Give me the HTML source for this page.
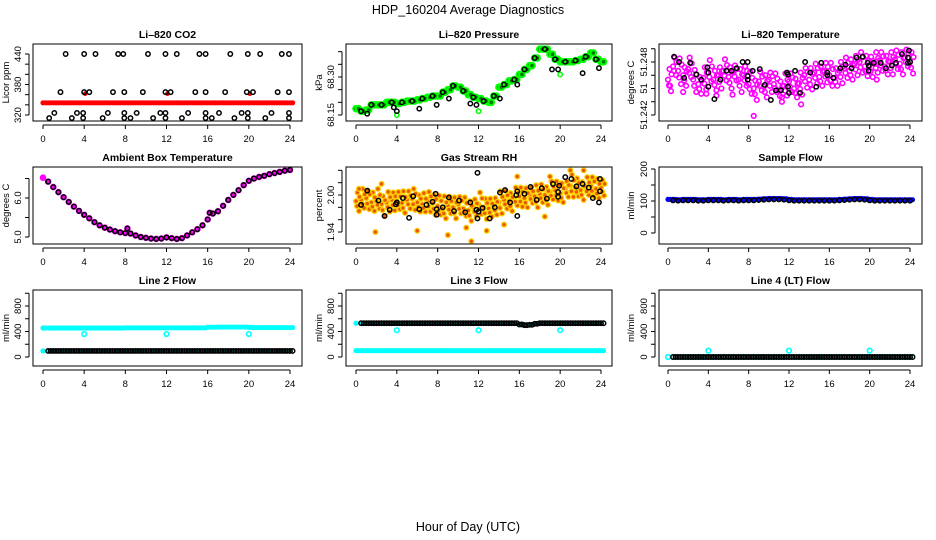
<!DOCTYPE html>
<html><head><meta charset="utf-8">
<style>
html,body{margin:0;padding:0;background:#fff;}
svg{display:block;font-family:"Liberation Sans",sans-serif;}
</style></head>
<body>
<svg id="chart" width="936" height="540" viewBox="0 0 936 540">
<rect width="936" height="540" fill="#fff"/>
<text x="468" y="14" font-size="12.5" text-anchor="middle">HDP_160204  Average Diagnostics</text>
<text x="468" y="531" font-size="12.5" text-anchor="middle">Hour of Day (UTC)</text>
</svg>
<script>
// ---------- shared data ----------
const hours = [0,0.5,1,1.5,2,2.5,3,3.5,4,4.5,5,5.5,6,6.5,7,7.5,8,8.5,9,9.5,10,10.5,11,11.5,12,12.5,13,13.5,14,14.5,15,15.5,16,16.5,17,17.5,18,18.5,19,19.5,20,20.5,21,21.5,22,22.5,23,23.5,24];
const xTicks = [0,4,8,12,16,20,24];
const xTickLabels = ["0","4","8","12","16","20","24"];

// CO2
const co2Red = [344,344,344,344,344,344,344,344,344,344,344,344,344,344,344,344,344,344,344,344,344,344,344,344,344,344,344,344,344,344,344,344,344,344,344,344,344,344,344,344,344,344,344,344,344,344,344,344,344];
const co2RedOutX = [4.1,12.1,20.1];
const co2RedOutY = [362,362,362];
const co2BlackX = [2.2,4,5.1,7.3,7.8,10.2,11.9,13,15.2,15.8,18.2,19.9,21.1,23.2,23.9,
 1.7,4,4.5,6.8,7.9,9.7,11.9,12.4,14.8,15.8,17.7,19.8,20.4,22.8,23.9,
 1.1,3.3,3.9,6.3,7.9,9.1,11.4,11.9,14.1,15.8,17.1,19.3,19.9,22.2,23.9,
 0.6,2.8,3.9,5.8,7.9,8.5,10.7,11.9,13.5,15.8,16.4,18.6,19.9,21.6,23.9];
const co2BlackY = [440,440,440,440,440,440,440,440,440,440,440,440,440,440,440,
 365,365,365,365,365,365,365,365,365,365,365,365,365,365,365,
 324,324,324,324,324,324,324,324,324,324,324,324,324,324,324,
 314,314,314,314,314,314,314,314,314,314,314,314,314,314,314];

// Pressure
const presGreen = [68.175,68.165,68.17,68.19,68.19,68.19,68.2,68.2,68.195,68.2,68.205,68.205,68.21,68.215,68.22,68.225,68.225,68.24,68.25,68.265,68.26,68.245,68.23,68.22,68.215,68.205,68.2,68.225,68.26,68.27,68.285,68.29,68.31,68.33,68.345,68.375,68.41,68.41,68.39,68.37,68.36,68.36,68.36,68.365,68.37,68.38,68.395,68.37,68.36];
const presGreenOutX = [4,12,20];
const presGreenOutY = [68.15,68.165,68.31];
const presBlackOutX = [1.1,3.7,4,6.2,7.9,9.1,11.2,11.8,14.1,15.8,19.2,19.8,22.2,23.8];
const presBlackOutY = [68.155,68.18,68.165,68.175,68.19,68.215,68.195,68.19,68.215,68.27,68.33,68.33,68.315,68.335];

// Li-820 Temperature
const tempMid = [51.2460,51.2475,51.2470,51.2465,51.2472,51.2460,51.2455,51.2462,51.2468,51.2460,51.2465,51.2470,51.2463,51.2468,51.2460,51.2465,51.2455,51.2450,51.2458,51.2452,51.2460,51.2455,51.2448,51.2453,51.2458,51.2450,51.2456,51.2465,51.2460,51.2468,51.2463,51.2470,51.2465,51.2462,51.2470,51.2473,51.2470,51.2478,51.2480,51.2475,51.2476,51.2478,51.2482,51.2475,51.2480,51.2483,51.2478,51.2485,51.2480];
const tempSpreadHi = [0.0012,0.0010,0.0014,0.0009,0.0013,0.0011,0.0008,0.0012,0.0014,0.0010,0.0009,0.0013,0.0011,0.0008,0.0012,0.0010,0.0014,0.0009,0.0011,0.0013,0.0008,0.0012,0.0010,0.0014,0.0009,0.0011,0.0012,0.0008,0.0013,0.0010,0.0012,0.0009,0.0014,0.0011,0.0010,0.0012,0.0013,0.0009,0.0011,0.0012,0.0010,0.0013,0.0009,0.0012,0.0011,0.0010,0.0013,0.0009,0.0011];
const tempSpreadLo = [0.0013,0.0010,0.0015,0.0012,0.0009,0.0014,0.0011,0.0013,0.0010,0.0012,0.0015,0.0011,0.0013,0.0009,0.0014,0.0012,0.0011,0.0013,0.0010,0.0012,0.0014,0.0009,0.0013,0.0011,0.0012,0.0010,0.0013,0.0014,0.0011,0.0012,0.0010,0.0013,0.0012,0.0009,0.0014,0.0011,0.0010,0.0013,0.0012,0.0011,0.0013,0.0010,0.0012,0.0009,0.0014,0.0011,0.0012,0.0010,0.0013];
const tempMagOutX = [8.5,1.5,0.2,4.8,11.3,13.2,20.7,6.4,3.8];
const tempMagOutY = [51.2419,51.2446,51.2453,51.2442,51.2440,51.2432,51.2460,51.2443,51.2444];
const tempBlackX = [0.6,1.1,1.6,2.2,2.8,3.3,3.9,4,4,4.6,5.2,5.8,6.3,6.8,7.4,7.9,7.9,7.9,8.4,9.1,9.6,10.2,10.7,11.2,11.8,11.9,11.9,12,12.6,13.1,13.6,14.1,14.7,15.2,15.8,15.8,16.4,17.1,17.6,18.2,18.7,19.3,19.8,19.9,19.9,20.4,21.1,21.6,22.2,22.6,23.2,23.8,23.8,23.9,24];
const tempBlackY = [51.2486,51.2480,51.2462,51.2479,51.2466,51.2460,51.2474,51.2468,51.2452,51.2438,51.2460,51.2470,51.2470,51.2473,51.2480,51.2480,51.2464,51.2460,51.2470,51.2472,51.2454,51.2437,51.2448,51.2448,51.2468,51.2466,51.2452,51.2445,51.2470,51.2445,51.2480,51.2468,51.2452,51.2479,51.2468,51.2465,51.2462,51.2473,51.2477,51.2473,51.2485,51.2486,51.2479,51.2476,51.2470,51.2479,51.2479,51.2473,51.2476,51.2479,51.2489,51.2479,51.2485,51.2493,51.2480];

// Ambient box temperature
const ambX = [0,0.5,1,1.5,2,2.5,3,3.5,4,4.5,5,5.5,6,6.5,7,7.5,8,8.2,8.5,9,9.5,10,10.5,11,11.5,12,12.5,13,13.5,14,14.5,15,15.5,16,16.2,16.5,17,17.5,18,18.5,19,19.5,20,20.5,21,21.5,22,22.5,23,23.5,24];
const ambY = [6.52,6.42,6.28,6.15,6.02,5.9,5.78,5.67,5.57,5.48,5.38,5.3,5.24,5.19,5.15,5.12,5.1,5.22,5.09,5.04,5.0,4.98,4.96,4.95,4.96,4.99,4.97,4.95,4.97,5.04,5.12,5.2,5.3,5.45,5.62,5.6,5.66,5.8,5.95,6.08,6.2,6.33,6.44,6.5,6.54,6.57,6.61,6.64,6.67,6.7,6.72];

// Gas stream RH
const rhMid = [1.990,1.992,1.995,1.988,1.990,1.985,1.988,1.992,1.990,1.987,1.992,1.994,1.988,1.985,1.990,1.987,1.982,1.978,1.983,1.980,1.985,1.978,1.975,1.980,1.985,1.980,1.978,1.983,1.988,1.992,1.990,1.995,1.998,1.995,2.000,1.998,2.002,2.000,2.005,2.008,2.003,2.010,2.015,2.012,2.008,2.012,2.015,2.010,2.012];
const rhSpreadHi = [0.014,0.018,0.012,0.016,0.020,0.013,0.017,0.012,0.015,0.019,0.014,0.016,0.012,0.018,0.015,0.013,0.017,0.020,0.014,0.016,0.012,0.018,0.015,0.013,0.019,0.014,0.016,0.012,0.018,0.015,0.013,0.017,0.014,0.016,0.012,0.018,0.015,0.013,0.017,0.014,0.016,0.012,0.018,0.015,0.013,0.017,0.014,0.016,0.012];
const rhSpreadLo = [0.016,0.013,0.018,0.014,0.012,0.019,0.015,0.017,0.013,0.016,0.014,0.018,0.015,0.012,0.017,0.019,0.014,0.016,0.013,0.018,0.015,0.012,0.017,0.014,0.016,0.019,0.013,0.015,0.018,0.014,0.016,0.012,0.017,0.015,0.013,0.018,0.014,0.016,0.012,0.017,0.015,0.013,0.018,0.014,0.016,0.012,0.017,0.015,0.013];
const rhOutX = [1.9,6,9,11.3,12.8,10.8,15.8,19,21,0.3,22.3,14.5,18.5,2.5];
const rhOutY = [1.940,1.942,1.935,1.925,1.942,1.947,2.030,2.030,2.040,2.010,2.040,1.952,1.965,2.018];
const rhBlackX = [0.5,1.1,2.2,2.8,3.3,3.9,4,4.6,5.2,5.6,6.2,6.9,7.5,7.8,7.9,7.9,8.5,9.1,9.6,10.1,10.7,11.2,11.8,11.9,12,11.9,12.4,13.1,13.6,14.1,14.6,15.1,15.7,15.8,15.8,16.5,17.1,17.7,18.2,18.7,19.3,19.8,19.8,19.9,20.5,21.1,21.6,22.2,22.8,23.2,23.9,23.9,23.8];
const rhBlackY = [1.984,2.007,1.991,1.966,1.976,1.985,1.988,1.995,1.963,1.998,1.977,1.984,1.989,2.002,1.977,1.968,1.980,1.996,1.974,1.991,1.972,1.988,1.976,2.036,1.973,1.962,1.979,1.962,1.980,2.004,2.008,1.988,2.000,1.966,2.006,2.002,2.013,1.992,2.011,1.994,2.018,2.005,1.997,2.015,2.029,2.026,2.014,2.018,2.012,1.995,2.026,2.006,1.988];

// Sample flow
const sampleBlue = [105,105,104,105,105,105,104,104,105,105,105,104,105,105,104,105,105,105,106,107,108,108,108,107,105,104,104,104,104,104,104,104,104,104,105,106,107,108,108,107,105,104,104,104,104,104,104,104,104];
const sampleBlack = [102,102,101,102,102,102,101,101,102,102,102,101,102,102,101,102,102,102,103,104,105,105,105,104,102,101,101,101,101,101,101,101,101,101,102,103,104,105,105,104,102,101,101,101,101,101,101,101,101];

// Line 2 flow
const line2Cyan = [455,455,455,455,455,455,455,455,455,455,455,455,455,455,455,455,458,458,458,458,458,458,458,458,458,458,458,458,458,458,458,458,468,468,470,470,470,470,470,470,465,462,462,462,462,462,462,462,462];
const line2Black = [95,95,95,95,95,95,95,95,95,95,95,95,95,95,95,95,95,95,95,95,95,95,95,95,95,95,95,95,95,95,95,95,95,95,95,95,95,95,95,95,95,95,95,95,95,95,95,95,95];
const line2OutX = [4,12,20];
const line2OutY = [360,360,360];

// Line 3 flow
const line3Black = [530,530,530,530,530,530,530,530,530,530,530,530,530,530,530,530,530,530,530,530,530,530,530,530,530,530,530,530,530,530,530,530,510,500,505,520,530,530,530,530,530,530,530,530,530,530,530,530,530];
const line3Cyan = [100,100,100,100,100,100,100,100,100,100,100,100,100,100,100,100,100,100,100,100,100,100,100,100,100,100,100,100,100,100,100,100,100,100,100,100,100,100,100,100,100,100,100,100,100,100,100,100,100];
const line3OutX = [4,12,20];
const line3OutY = [420,420,420];

// Line 4 flow
const line4Vals = [0,0,0,0,0,0,0,0,0,0,0,0,0,0,0,0,0,0,0,0,0,0,0,0,0,0,0,0,0,0,0,0,0,0,0,0,0,0,0,0,0,0,0,0,0,0,0,0,0];
const line4OutX = [4,12,20];
const line4OutY = [100,100,100];

// ---------- drawing ----------
const svg = document.getElementById('chart');
const NS = 'http://www.w3.org/2000/svg';
function mk(parent, tag, attrs, name) {
  const el = document.createElementNS(NS, tag);
  for (const k in attrs) el.setAttribute(k, attrs[k]);
  
  
  parent.appendChild(el);
  return el;
}

const cols = [
  {left:33, right:302, x0:43, x24:290, ylabX:9},
  {left:346, right:612, x0:356, x24:601, ylabX:322},
  {left:659, right:922, x0:668, x24:910, ylabX:634}
];
const rows = [{top:44,bottom:121},{top:167,bottom:244},{top:290,bottom:366}];

function panel(ci, ri, name, title, ylab, yMin, yMax, yMinPx, yMaxPx, ticks, labels) {
  const c = cols[ci], r = rows[ri];
  const g = mk(svg, 'g', {}, name);
  const sx = v => c.x0 + (v / 24) * (c.x24 - c.x0);
  const sy = v => yMinPx + (v - yMin) / (yMax - yMin) * (yMaxPx - yMinPx);
  mk(g, 'text', {x:(c.left+c.right)/2, y:r.top-6, 'font-size':10.5, 'font-weight':'bold', 'text-anchor':'middle'}, name + '-title').textContent = title;
  const ay = r.bottom + 4;
  mk(g, 'line', {x1:sx(0), x2:sx(24), y1:ay, y2:ay, stroke:'#000'}, name + '-x-axis');
  xTicks.forEach((t, i) => {
    mk(g, 'line', {x1:sx(t), x2:sx(t), y1:ay, y2:ay+4, stroke:'#000'}, name + '-x-tick');
    mk(g, 'text', {x:sx(t), y:ay+17, 'font-size':9.5, 'text-anchor':'middle'}, name + '-x-tick-label').textContent = xTickLabels[i];
  });
  const ax = c.left - 4;
  mk(g, 'line', {x1:ax, x2:ax, y1:sy(ticks[0]), y2:sy(ticks[ticks.length-1]), stroke:'#000'}, name + '-y-axis');
  ticks.forEach((t, i) => {
    mk(g, 'line', {x1:ax-4, x2:ax, y1:sy(t), y2:sy(t), stroke:'#000'}, name + '-y-tick');
    if (labels[i]) {
      const tx = ax - 8, ty = sy(t);
      mk(g, 'text', {x:tx, y:ty, 'font-size':9.5, 'text-anchor':'middle', transform:`rotate(-90 ${tx} ${ty})`}, name + '-y-tick-label').textContent = labels[i];
    }
  });
  const ly = (r.top + r.bottom) / 2;
  mk(g, 'text', {x:c.ylabX, y:ly, 'font-size':9.5, 'text-anchor':'middle', transform:`rotate(-90 ${c.ylabX} ${ly})`}, name + '-y-axis-title').textContent = ylab;
  const clip = mk(g, 'clipPath', {id:'clip-'+name}, name + '-clip');
  mk(clip, 'rect', {x:c.left, y:r.top, width:c.right-c.left, height:r.bottom-r.top}, name + '-clip-rect');
  const plot = mk(g, 'g', {'clip-path':`url(#clip-${name})`}, name + '-plot-area');
  mk(g, 'rect', {x:c.left, y:r.top, width:c.right-c.left, height:r.bottom-r.top, fill:'none', stroke:'#000'}, name + '-frame');
  return {g:plot, sx, sy, name};
}

function pts(P, xs, ys, st, seriesName, dx) {
  const grp = mk(P.g, 'g', {}, P.name + '-' + seriesName);
  xs.forEach((x, i) => {
    mk(grp, 'circle', {cx:P.sx(x + (dx||0)), cy:P.sy(ys[i]), r:st.r, fill:st.fill||'none', stroke:st.stroke||'none', 'stroke-width':st.sw||1.5}, seriesName + '-point');
  });
}
const black = {r:2.2, stroke:'#000', sw:1.5};

// Panel 1: CO2
let P = panel(0,0,'co2-panel','Li\u2013820 CO2','Licor ppm',320,440,115,54,[320,340,360,380,400,420,440],['320','','','380','','','440']);
pts(P, hours, co2Red, {r:2.6, fill:'#f00'}, 'co2-red', 0);
pts(P, hours, co2Red, {r:2.6, fill:'#f00'}, 'co2-red-b', 0.25);
pts(P, co2RedOutX, co2RedOutY, {r:2.4, fill:'#f00'}, 'co2-red-outliers');
pts(P, co2BlackX, co2BlackY, black, 'co2-black');

// Panel 2: Pressure
P = panel(1,0,'pressure-panel','Li\u2013820 Pressure','kPa',68.15,68.30,115,77,[68.15,68.20,68.25,68.30,68.35,68.40],['68.15','','','68.30','','']);
pts(P, hours, presGreen, {r:2.8, fill:'#070', stroke:'#0f0', sw:2}, 'pressure-green', 0);
pts(P, hours, presGreen, {r:2.8, fill:'#070', stroke:'#0f0', sw:2}, 'pressure-green-b', 0.25);
pts(P, presGreenOutX, presGreenOutY, {r:2.2, stroke:'#0f0', sw:1.5}, 'pressure-green-outliers');
pts(P, hours.filter((h,i)=>i%2===1), presGreen.filter((v,i)=>i%2===1), black, 'pressure-black');
pts(P, presBlackOutX, presBlackOutY, black, 'pressure-black-outliers');

// Panel 3: Li-820 temperature
P = panel(2,0,'temperature-panel','Li\u2013820 Temperature','degrees C',51.242,51.248,115,62,[51.242,51.2435,51.245,51.2465,51.248,51.2495],['51.242','','51','','51.248','']);
const mag = {r:2.3, stroke:'#f0f', sw:1.6};
pts(P, hours, tempMid, mag, 'temp-mid', 0);
pts(P, hours, tempMid.map((v,i)=>v+tempSpreadHi[i]), mag, 'temp-hi', 0.15);
pts(P, hours, tempMid.map((v,i)=>v-tempSpreadLo[i]), mag, 'temp-lo', 0.3);
pts(P, hours, tempMid.map((v,i)=>v+tempSpreadHi[i]*0.5), mag, 'temp-hi2', 0.35);
pts(P, hours, tempMid.map((v,i)=>v-tempSpreadLo[i]*0.5), mag, 'temp-lo2', 0.1);
pts(P, tempMagOutX, tempMagOutY, mag, 'temp-outliers');
pts(P, tempBlackX, tempBlackY, black, 'temp-black');

// Panel 4: Ambient box temperature
P = panel(0,1,'ambient-panel','Ambient Box Temperature','degrees C',5.0,6.0,237,198,[5.0,5.5,6.0,6.5],['5.0','','6.0','']);
pts(P, ambX, ambY, {r:3.3, fill:'#f0f'}, 'ambient-magenta');
pts(P, ambX.slice(1), ambY.slice(1), black, 'ambient-black');

// Panel 5: Gas stream RH
P = panel(1,1,'rh-panel','Gas Stream RH','percent',1.94,2.00,232,195,[1.94,1.96,1.98,2.00,2.02,2.04],['1.94','','','2.00','','']);
const org = {r:2.4, fill:'#e85a00', stroke:'#ffd000', sw:1.3};
pts(P, hours, rhMid, org, 'rh-mid', 0);
pts(P, hours, rhMid.map((v,i)=>v+rhSpreadHi[i]), org, 'rh-hi', 0.15);
pts(P, hours, rhMid.map((v,i)=>v-rhSpreadLo[i]), org, 'rh-lo', 0.3);
pts(P, hours, rhMid.map((v,i)=>v+rhSpreadHi[i]*0.5), org, 'rh-hi2', 0.35);
pts(P, hours, rhMid.map((v,i)=>v-rhSpreadLo[i]*0.5), org, 'rh-lo2', 0.1);
pts(P, rhOutX, rhOutY, org, 'rh-outliers');
pts(P, rhBlackX, rhBlackY, black, 'rh-black');

// Panel 6: Sample flow
P = panel(2,1,'sample-flow-panel','Sample Flow','ml/min',0,200,233,169,[0,50,100,150,200],['0','','100','','200']);
pts(P, hours, sampleBlue, {r:2.6, fill:'#00f'}, 'sample-blue', 0);
pts(P, hours, sampleBlue, {r:2.6, fill:'#00f'}, 'sample-blue-b', 0.25);
pts(P, hours.slice(1), sampleBlack.slice(1), black, 'sample-black');

// Flows
const flowTicks = [0,200,400,600,800,1000];
const flowLabels = ['0','','400','','800',''];
const cyan = {r:2.6, fill:'#0ff'};
const cyanO = {r:2.3, stroke:'#0ff', sw:1.6};

P = panel(0,2,'line2-panel','Line 2 Flow','ml/min',0,800,357,306,flowTicks,flowLabels);
pts(P, hours, line2Cyan, cyan, 'line2-cyan', 0);
pts(P, hours, line2Cyan, cyan, 'line2-cyan-b', 0.25);
pts(P, hours, line2Black, cyan, 'line2-cyan-low', 0);
pts(P, line2OutX, line2OutY, cyanO, 'line2-outliers');
pts(P, hours.slice(1), line2Black.slice(1), black, 'line2-black');
pts(P, hours.slice(1), line2Black.slice(1), black, 'line2-black-b', 0.25);

P = panel(1,2,'line3-panel','Line 3 Flow','ml/min',0,800,357,306,flowTicks,flowLabels);
pts(P, hours, line3Cyan, cyan, 'line3-cyan', 0);
pts(P, hours, line3Cyan, cyan, 'line3-cyan-b', 0.25);
pts(P, hours, line3Black, cyan, 'line3-cyan-high', 0);
pts(P, line3OutX, line3OutY, cyanO, 'line3-outliers');
pts(P, hours.slice(1), line3Black.slice(1), black, 'line3-black');
pts(P, hours.slice(1), line3Black.slice(1), black, 'line3-black-b', 0.25);

P = panel(2,2,'line4-panel','Line 4 (LT) Flow','ml/min',0,800,357,306,flowTicks,flowLabels);
pts(P, hours, line4Vals, cyanO, 'line4-cyan', 0);
pts(P, line4OutX, line4OutY, cyanO, 'line4-outliers');
pts(P, hours.slice(1), line4Vals.slice(1), black, 'line4-black');
pts(P, hours.slice(1), line4Vals.slice(1), black, 'line4-black-b', 0.25);
</script>
</body></html>
